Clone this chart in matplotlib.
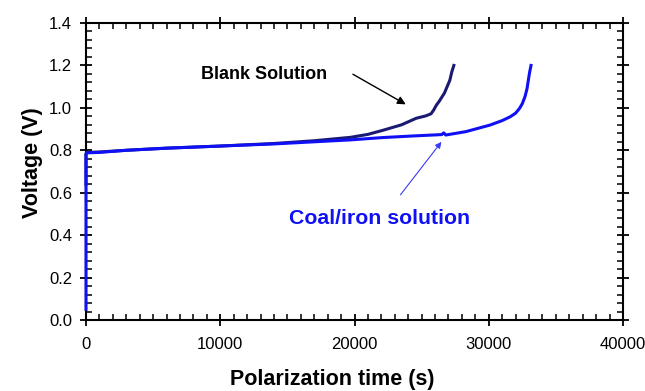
import matplotlib.pyplot as plt
from matplotlib.ticker import MultipleLocator

plt.rcParams['font.family'] = ['Liberation Sans', 'DejaVu Sans']

# Blank solution
blank_t = [0, 0, 60, 1000, 3000, 6000, 10000, 14000, 17000, 19700, 21000, 22100,
           23500, 24600, 25300, 25700, 25900, 26100, 26300, 26500, 26700,
           26900, 27100, 27250, 27400]
blank_v = [0.64, 0.785, 0.79, 0.792, 0.80, 0.81, 0.82, 0.832, 0.845, 0.861, 0.875, 0.894,
           0.92, 0.951, 0.962, 0.972, 0.99, 1.013, 1.03, 1.05, 1.07,
           1.10, 1.13, 1.17, 1.20]

# Coal/iron solution
coal_t = [0, 0, 60, 1000, 3000, 6000, 10000, 14000, 17000, 19700, 22100, 24500,
          26500, 26650, 26800, 28300, 30100, 31000, 31600, 32000, 32300,
          32500, 32700, 32850, 32950, 33050, 33150]
coal_v = [0.05, 0.78, 0.788, 0.79, 0.80, 0.81, 0.82, 0.83, 0.84, 0.849, 0.86, 0.868,
          0.874, 0.882, 0.872, 0.888, 0.919, 0.94, 0.958, 0.975, 0.998,
          1.02, 1.053, 1.09, 1.131, 1.17, 1.20]

fig, ax = plt.subplots(figsize=(6.45, 3.91), dpi=100)
plt.subplots_adjust(left=86/645, right=623/645, top=1-23/391, bottom=1-320/391)

ax.plot(blank_t, blank_v, color='#1a1a72', linewidth=2.2, clip_on=False, zorder=3)
ax.plot(coal_t, coal_v, color='#1010f5', linewidth=2.2, clip_on=False, zorder=3)

ax.set_xlim(0, 40000)
ax.set_ylim(0, 1.4)
ax.xaxis.set_major_locator(MultipleLocator(10000))
ax.xaxis.set_minor_locator(MultipleLocator(1000))
ax.yaxis.set_major_locator(MultipleLocator(0.2))
ax.yaxis.set_minor_locator(MultipleLocator(0.04))
ax.yaxis.set_major_formatter(lambda v, p: '%.1f' % v)

ax.tick_params(which='major', direction='inout', length=8, width=1.3,
               top=True, right=True, labelsize=12)
ax.tick_params(axis='x', which='major', pad=8)
ax.tick_params(axis='y', which='major', pad=6)
ax.tick_params(which='minor', direction='in', length=4, width=1.1,
               top=True, right=True)
for s in ax.spines.values():
    s.set_linewidth(1.5)

ax.set_xlabel('Polarization time (s)', fontsize=15.5, fontweight='bold')
ax.set_ylabel('Voltage (V)', fontsize=15.5, fontweight='bold')
ax.xaxis.set_label_coords(0.458, -0.165)
ax.yaxis.set_label_coords(-0.08, 0.53)

ax.text(13300, 1.155, 'Blank Solution', fontsize=13, fontweight='bold',
        ha='center', va='center', color='black')
ax.annotate('', xy=(24000, 1.01), xytext=(19700, 1.165),
            arrowprops=dict(arrowstyle='-|>', color='black', lw=1.0,
                            mutation_scale=12))

ax.text(21900, 0.48, 'Coal/iron solution', fontsize=15.3, fontweight='bold',
        ha='center', va='center', color='#1010f5')
ax.annotate('', xy=(26600, 0.85), xytext=(23300, 0.58),
            arrowprops=dict(arrowstyle='-|>', color='#3a3af5', lw=0.8,
                            mutation_scale=9))

plt.savefig('out.png', dpi=100)
